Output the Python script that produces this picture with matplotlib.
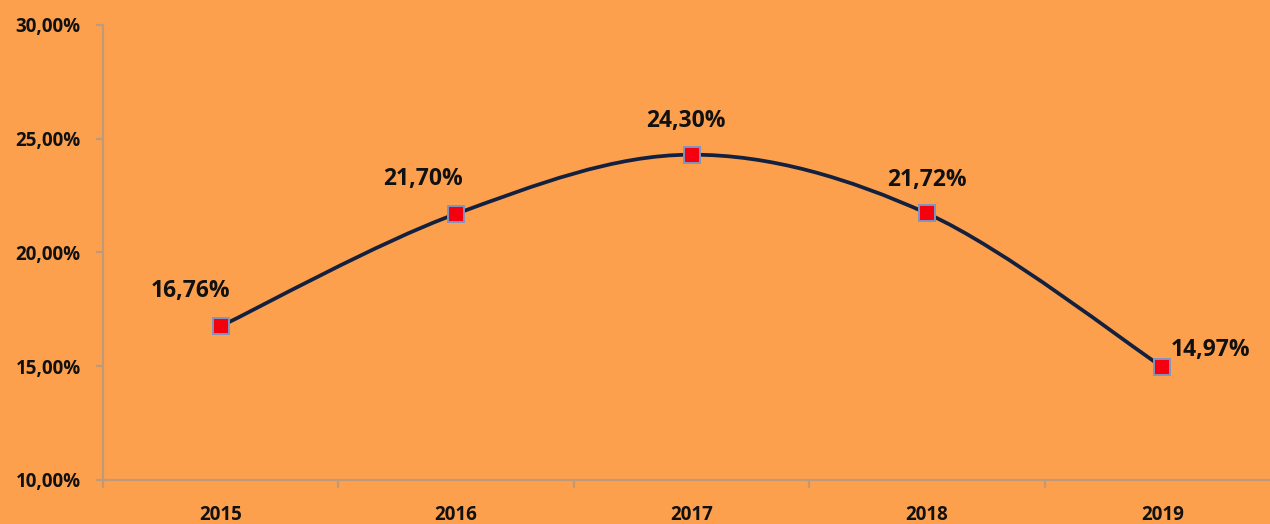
import matplotlib.pyplot as plt
import numpy as np
from matplotlib.path import Path
from matplotlib.patches import PathPatch
from matplotlib.ticker import FuncFormatter, FixedLocator

# data
years = ["2015", "2016", "2017", "2018", "2019"]
rates = [16.76, 21.70, 24.30, 21.72, 14.97]
labels = ["16,76%", "21,70%", "24,30%", "21,72%", "14,97%"]

bg = "#FDA04E"
axis_col = "#BE9A78"
line_col = "#13213F"

fig = plt.figure(figsize=(12.7, 5.24), dpi=100)
fig.set_facecolor(bg)
ax = fig.add_axes([0.0811, 0.0840, 0.9268, 0.8683])
ax.set_facecolor(bg)

x = np.arange(len(years))
y = np.array(rates)

# smooth line like the office "smoothed line": bezier through the points
verts = [(x[0], y[0])]
codes = [Path.MOVETO]
n = len(x)
for i in range(n - 1):
    p0 = np.array([x[max(i - 1, 0)], y[max(i - 1, 0)]])
    p1 = np.array([x[i], y[i]])
    p2 = np.array([x[i + 1], y[i + 1]])
    p3 = np.array([x[min(i + 2, n - 1)], y[min(i + 2, n - 1)]])
    c1 = p1 + (p2 - p0) / 6.0
    c2 = p2 - (p3 - p1) / 6.0
    verts += [tuple(c1), tuple(c2), tuple(p2)]
    codes += [Path.CURVE4] * 3
ax.add_patch(PathPatch(Path(verts, codes), facecolor="none",
                       edgecolor=line_col, lw=2.7, zorder=3))

ax.plot(x, y, ls="none", marker="s", ms=11, mfc="#F4000E",
        mec="#7F95C0", mew=1.4, zorder=4)

offsets = [(-22, 25), (-24, 25), (-4, 24), (0, 24), (35, 12)]
for xi, yi, lab, off in zip(x, y, labels, offsets):
    ax.annotate(lab, (xi, yi), xytext=off, textcoords="offset points",
                ha="center", va="center", fontsize=16.5, fontweight="bold",
                family="Open Sans", color="#111111", zorder=5)

ax.set_xlim(-0.5, 4.5)
ax.set_ylim(10, 30)
ax.yaxis.set_major_locator(FixedLocator([10, 15, 20, 25, 30]))
ax.yaxis.set_major_formatter(FuncFormatter(lambda v, p: f"{v:.2f}".replace(".", ",") + "%"))
ax.set_xticks(x)
ax.set_xticklabels(years)
ax.set_xticks(np.arange(-0.5, 4.6, 1.0), minor=True)

for s in ["top", "right"]:
    ax.spines[s].set_visible(False)
for s in ["left", "bottom"]:
    ax.spines[s].set_color(axis_col)
    ax.spines[s].set_linewidth(1.6)

ax.tick_params(axis="x", which="major", length=0, pad=18)
ax.tick_params(axis="x", which="minor", length=6, width=1.6, color=axis_col)
ax.tick_params(axis="y", length=5, width=1.6, color=axis_col, pad=11)
for t in ax.get_xticklabels() + ax.get_yticklabels():
    t.set_fontweight("bold")
    t.set_fontfamily("Open Sans")
    t.set_color("#111111")
    t.set_fontsize(13.5)

fig.savefig("out.png", dpi=100, facecolor=bg)
